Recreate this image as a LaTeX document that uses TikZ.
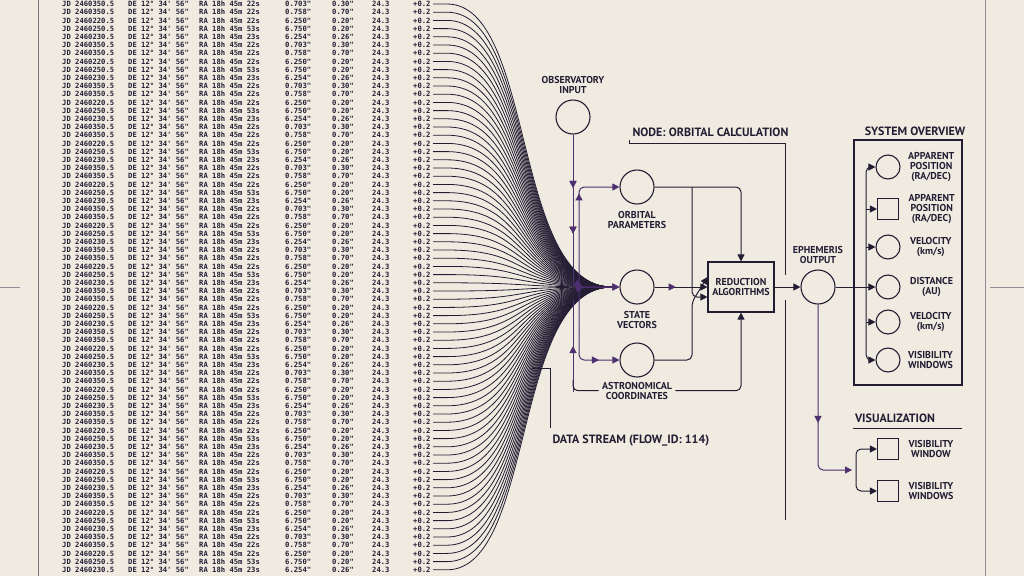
\documentclass[tikz,border=0pt]{standalone}
\usepackage{fontspec}
\setmainfont{PT Sans}
\setmonofont{DejaVu Sans Mono}
\usetikzlibrary{arrows.meta,decorations.markings,positioning}
\definecolor{paper}{HTML}{EFEBE1}
\definecolor{ink}{HTML}{231D33}
\definecolor{plum}{HTML}{4E2F70}
\tikzset{
  lbl/.style={font=\bfseries\fontsize{10}{10}\selectfont, align=center, text=ink},
  ttl/.style={font=\bfseries\fontsize{12}{12}\selectfont, text=ink},
  row/.style={font=\ttfamily\bfseries\fontsize{7.2}{7.2}\selectfont, text=ink, anchor=west, inner sep=0pt},
  dot/.style={circle, draw=ink, line width=1.1pt, minimum size=34pt, inner sep=0pt},
  sdot/.style={circle, draw=ink, line width=1.1pt, minimum size=24pt, inner sep=0pt},
  sq/.style={draw=ink, line width=1.1pt, minimum size=21pt, inner sep=0pt},
  wire/.style={draw=ink, line width=1pt, rounded corners=5pt},
  pwire/.style={draw=plum, line width=1pt, rounded corners=5pt},
  tip/.style={-{Triangle[length=7pt,width=7pt]}},
  mid/.style={postaction={decorate}, decoration={markings,
    mark=at position #1 with {\arrow[plum]{Triangle[length=7pt,width=7pt]}}}},
}
\begin{document}
\begin{tikzpicture}[x=1pt,y=-1pt]
  \fill[paper] (0,0) rectangle (1024,576);
  \useasboundingbox (0,0) rectangle (1024,576);

  % frame lines
  \draw[ink!60, line width=0.6pt] (38,0) -- (38,576);
  \draw[ink!50, line width=0.5pt] (0,287) -- (20,287);
  \draw[ink!50, line width=0.5pt] (985,0) -- (985,576) (990,287) -- (1024,287);

  % data table with fan into the state vectors
  \coordinate (hub) at (612,287);
  \foreach \i in {0,...,69} {
    \pgfmathsetmacro{\yy}{4+8.2*\i}
    \pgfmathtruncatemacro{\k}{mod(\i*7,5)}
    \ifcase\k \def\jd{2460350.5}\def\ra{22s}\def\mg{0.703}\def\dv{0.30}
    \or \def\jd{2460250.5}\def\ra{53s}\def\mg{6.750}\def\dv{0.20}
    \or \def\jd{2460350.5}\def\ra{22s}\def\mg{0.758}\def\dv{0.70}
    \or \def\jd{2460230.5}\def\ra{23s}\def\mg{6.254}\def\dv{0.26}
    \else \def\jd{2460220.5}\def\ra{22s}\def\mg{6.250}\def\dv{0.20}\fi
    \node[row] (jd\i) at (62,\yy) {JD \jd};
    \node[row] (de\i) at (128,\yy) {DE 12° 34' 56"};
    \node[row] (ra\i) at (199,\yy) {RA 18h 45m \ra};
    \node[row] (mg\i) at (285,\yy) {\mg"};
    \node[row] (dv\i) at (332,\yy) {\dv"};
    \node[row] (dt\i) at (372,\yy) {24.3};
    \node[row] (pm\i) at (413,\yy) {+0.2};
    \coordinate (f\i) at (433,\yy);
    \draw[ink, line width=0.8pt] (f\i) -- ++(14,0) .. controls (535,\yy) and (512,287) .. (hub);
  }

  % orbital calculation nodes
  \node[dot] (obs) at (573,117) {};
  \node[lbl, above=2pt of obs] (obsl) {OBSERVATORY\\INPUT};
  \node[dot] (orb) at (637,187) {};
  \node[lbl, below=3pt of orb] (orbl) {ORBITAL\\PARAMETERS};
  \node[dot] (stv) at (637,287) {};
  \node[lbl, below=3pt of stv] (stvl) {STATE\\VECTORS};
  \node[dot] (ast) at (637,360) {};
  \node[lbl, below=1pt of ast] (astl) {ASTRONOMICAL\\COORDINATES};
  \node[draw=ink, line width=1.1pt, minimum width=66pt, minimum height=50pt, lbl] (red) at (741,287) {REDUCTION\\ALGORITHMS};
  \node[dot] (eph) at (818,287) {};
  \node[lbl, above=2pt of eph] (ephl) {EPHEMERIS\\OUTPUT};

  \node[ttl, anchor=west] (calc) at (629,132) {NODE: ORBITAL CALCULATION};
  \draw[ink, line width=0.7pt] (calc.south west) -- ++(0,3) -| (785,275);
  \draw[ink, line width=0.7pt] (785,300) -- (785,520);

  \draw[pwire, mid=0.35, mid=0.65] (obs) -- (573,287);
  \draw[pwire, tip, mid=0.45] (579,230) |- (orb);
  \draw[pwire, tip, mid=0.6] (579,230) |- (stv);
  \draw[pwire, tip, mid=0.55] (579,330) |- (stv);
  \draw[pwire, tip, mid=0.7] (579,330) |- (ast);
  \draw[wire, tip] (orb) -| (red.north);
  \draw[wire, tip] (692,187) |- ([yshift=-10pt]red.west);
  \draw[wire, tip, mid=0.4] (stv) -- (red);
  \draw[wire, tip] (ast) -| (692,302) -- ([yshift=10pt]red.west);
  \draw[pwire, mid=0.5] (573,392) -- (573,300);
  \draw[wire] (astl.west) -| (573,380);
  \draw[wire, tip] (astl.east) -| (red.south);
  \draw[wire, tip] (red) -- (eph);

  \node[ttl, anchor=west] (flow) at (549,441) {DATA STREAM (FLOW\_ID: 114)};
  \draw[ink, line width=0.7pt] (532,368) -| (550,428);

  % system overview
  \node[ttl] (sysl) at (915,131) {SYSTEM OVERVIEW};
  \draw[ink, line width=1.1pt] (854,140) rectangle (962,385);
  \node[sdot] (o1) at (888,167) {};
  \node[sq] (o2) at (888,209) {};
  \node[sdot] (o3) at (888,247) {};
  \node[sdot] (o4) at (888,287) {};
  \node[sdot] (o5) at (888,322) {};
  \node[sdot] (o6) at (888,360) {};
  \node[lbl, right=4pt of o1] {APPARENT\\POSITION\\(RA/DEC)};
  \node[lbl, right=6pt of o2] {APPARENT\\POSITION\\(RA/DEC)};
  \node[lbl, right=6pt of o3] {VELOCITY\\(km/s)};
  \node[lbl, right=6pt of o4] {DISTANCE\\(AU)};
  \node[lbl, right=6pt of o5] {VELOCITY\\(km/s)};
  \node[lbl, right=4pt of o6] {VISIBILITY\\WINDOWS};
  \draw[wire, tip] (eph) -- (o4);
  \foreach \o in {o1,o6} \draw[wire, tip] (866,287) |- (\o);
  \foreach \o in {o2,o3,o5} \draw[wire, tip] (\o -| 866,0) -- (\o);

  % visualization
  \node[ttl] (visl) at (895,418) {VISUALIZATION};
  \draw[ink, line width=0.7pt] (853,428) -- (962,428);
  \node[sq] (v1) at (888,449) {};
  \node[sq] (v2) at (888,491) {};
  \node[lbl, right=6pt of v1] {VISIBILITY\\WINDOW};
  \node[lbl, right=6pt of v2] {VISIBILITY\\WINDOWS};
  \draw[pwire, tip, mid=0.6] (eph) |- (852,470);
  \draw[wire, tip] (856,470) |- (v1);
  \draw[wire, tip] (856,470) |- (v2);
\end{tikzpicture}
\end{document}
